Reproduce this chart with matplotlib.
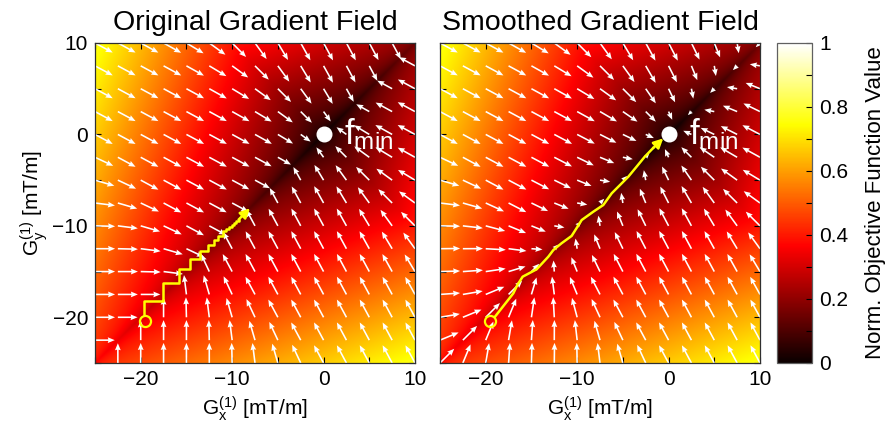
import numpy as np
import matplotlib
matplotlib.use('Agg')
import matplotlib.pyplot as plt
from matplotlib.ticker import FixedLocator

plt.rcParams['font.family'] = ['Liberation Sans', 'DejaVu Sans']
plt.rcParams['mathtext.default'] = 'regular'

# first-order shim gradient range (mT/m) and quiver spacing
G_MIN, G_MAX = -25.0, 10.0
GRID_STEP = 2.5

# objective: creased valley along Gx = Gy through the optimum
F_MIN = (0.0, 0.0)
SLOPE_PERP = 0.0244   # rise of f per mT/m across the valley
SLOPE_ALONG = 0.0106  # rise of f per mT/m along the valley
CREASE_DEPTH = 0.05   # quick rise right next to the valley floor
CREASE_WIDTH = 0.7

# gradient field shape
PULL_NEAR = 0.3       # relative pull along the valley close to the optimum
PULL_FAR = (18, 26)   # valley distance where the pull grows to full strength
SMOOTH_U = 4.0        # smoothing width across the valley
SMOOTH_V = 3.0
ARROW_LEN = 2.2

# both searches start here
start = (-19.5, -20.4)

# coordinate-wise descent on the original gradient
orig_path_x = [-19.6, -19.6, -17.6, -17.6, -15.8, -15.8, -14.6, -14.6, -13.5, -13.5,
               -12.6, -12.6, -12.0, -12.0, -11.5, -11.5, -11.0, -11.0, -10.65, -10.65,
               -10.35, -10.35, -10.05, -10.05, -9.8, -9.8, -9.55, -9.55, -9.3, -9.3]
orig_path_y = [-19.8, -18.2, -18.2, -16.2, -16.2, -14.75, -14.75, -13.66, -13.66, -12.71,
               -12.71, -12.09, -12.09, -11.55, -11.55, -11.1, -11.1, -10.6, -10.6, -10.35,
               -10.35, -10.12, -10.12, -9.9, -9.9, -9.7, -9.7, -9.5, -9.5, -9.32]
orig_tip = (-8.05, -8.08)

# descent on the smoothed gradient
smooth_path_x = [-18.98, -16.98, -16.54, -15.96, -14.43, -13.15, -12.6, -11.7, -10.6,
                 -9.5, -8.23, -7.14, -6.22, -5.13, -4.4, -3.5, -2.6, -1.7]
smooth_path_y = [-19.93, -17.38, -16.47, -15.56, -14.75, -13.37, -12.64, -11.9, -11.1,
                 -9.36, -8.45, -7.72, -6.44, -5.35, -4.62, -3.53, -2.43, -1.5]
smooth_tip = (-0.58, -0.43)


def rot(x, y):
    # coordinates across (u) and along (v) the valley
    x = x - F_MIN[0]
    y = y - F_MIN[1]
    return (x - y) / np.sqrt(2), (x + y) / np.sqrt(2)


def to_xy(du, dv):
    return (du + dv) / np.sqrt(2), (dv - du) / np.sqrt(2)


def smoothstep(t):
    t = np.clip(t, 0, 1)
    return t * t * (3 - 2 * t)


def pull(v):
    a, b = PULL_FAR
    return PULL_NEAR + (1 - PULL_NEAR) * smoothstep((np.abs(v) - a) / (b - a))


def original_field(x, y):
    u, v = rot(x, y)
    eps = 2.5 * np.exp(-np.abs(v) / 8) + 0.3
    taper = np.abs(u) / np.sqrt(u ** 2 + eps ** 2)
    du = -np.sign(u)
    dv = -np.tanh(v / SMOOTH_V) * pull(v)
    n = np.hypot(du, dv)
    n[n == 0] = 1
    k = ARROW_LEN * taper / n
    return to_xy(du * k, dv * k)


def smoothed_field(x, y):
    u, v = rot(x, y)
    du = -np.tanh(u / SMOOTH_U)
    dv = -np.tanh(v / SMOOTH_V) * pull(v)
    mag = np.hypot(du, dv)
    n = np.where(mag == 0, 1, mag)
    k = ARROW_LEN * np.minimum(mag, 1) / n
    return to_xy(du * k, dv * k)


# background objective
g = np.linspace(G_MIN, G_MAX, 800)
X, Y = np.meshgrid(g, g)
U, V = rot(X, Y)
F = (SLOPE_PERP * np.abs(U) + CREASE_DEPTH * (1 - np.exp(-np.abs(U) / CREASE_WIDTH))
     + SLOPE_ALONG * np.abs(V))

q = np.arange(G_MIN, G_MAX + 0.01, GRID_STEP)
QX, QY = np.meshgrid(q, q)

fig = plt.figure(figsize=(8.85, 4.41), dpi=100)
W, H = 885.0, 441.0
ax1 = fig.add_axes([95 / W, 78 / H, 320 / W, 320 / H])
ax2 = fig.add_axes([440 / W, 78 / H, 320 / W, 320 / H])
cax = fig.add_axes([777 / W, 78 / H, 35 / W, 320 / H])

panels = [
    (ax1, 'Original Gradient Field', original_field, orig_path_x, orig_path_y, orig_tip),
    (ax2, 'Smoothed Gradient Field', smoothed_field, smooth_path_x, smooth_path_y, smooth_tip),
]

for ax, title, field, px, py, tip in panels:
    im = ax.imshow(F, extent=[G_MIN, G_MAX, G_MIN, G_MAX], origin='lower',
                   cmap='hot', vmin=0, vmax=1, aspect='auto', interpolation='bilinear')
    dx, dy = field(QX, QY)
    ax.quiver(QX, QY, dx, dy, angles='xy', scale_units='xy', scale=1, color='white',
              width=0.005, headwidth=3.6, headlength=4.4, headaxislength=4.0,
              minlength=0, zorder=2)

    ax.plot(px, py, color='yellow', lw=1.8, zorder=4)
    ax.annotate('', xy=tip, xytext=(px[-1], py[-1]),
                arrowprops=dict(arrowstyle='-|>', color='yellow', lw=1.8,
                                mutation_scale=14, shrinkA=0, shrinkB=0), zorder=4)
    ax.plot(*start, marker='o', ms=8, mfc='none', mec='yellow', mew=1.6, zorder=5)

    ax.plot(*F_MIN, marker='o', ms=10.5, color='white', zorder=5)
    ax.text(F_MIN[0] + 2.2, F_MIN[1] - 1.1, r'$f_{min}$', color='white', fontsize=25,
            va='baseline', ha='left', zorder=6)

    ax.set_xlim(G_MIN, G_MAX)
    ax.set_ylim(G_MIN, G_MAX)
    ax.set_xticks([-20, -10, 0, 10])
    ax.set_yticks([-20, -10, 0, 10])
    ax.xaxis.set_minor_locator(FixedLocator([-25, -15, -5, 5]))
    ax.yaxis.set_minor_locator(FixedLocator([-25, -15, -5, 5]))
    ax.tick_params(which='both', direction='in', length=4, width=0.8,
                   top=True, right=True, labelsize=15, pad=5)
    for sp in ax.spines.values():
        sp.set_color('#303030')
        sp.set_linewidth(0.9)
    ax.set_title(title, fontsize=20.5, pad=9)
    ax.set_xlabel(r'$G_x^{(1)}$ [mT/m]', fontsize=15, labelpad=4)

ax1.set_ylabel(r'$G_y^{(1)}$ [mT/m]', fontsize=15, labelpad=2)
ax2.tick_params(labelleft=False)

cb = fig.colorbar(im, cax=cax, ticks=[0, 0.2, 0.4, 0.6, 0.8, 1])
cb.ax.set_yticklabels(['0', '0.2', '0.4', '0.6', '0.8', '1'])
cb.ax.yaxis.set_minor_locator(FixedLocator([0.1, 0.3, 0.5, 0.7, 0.9]))
cb.ax.tick_params(which='both', direction='in', length=4, width=0.8, labelsize=15, pad=5)
cb.outline.set_edgecolor('#606060')
cb.outline.set_linewidth(0.9)
cb.set_label('Norm. Objective Function Value', fontsize=16, labelpad=12)

fig.savefig('out.png', dpi=100)
